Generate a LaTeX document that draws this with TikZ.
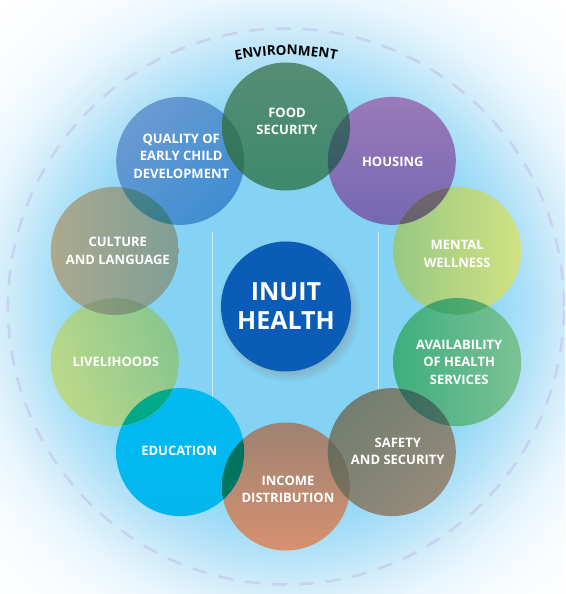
\documentclass[tikz,border=0pt]{standalone}
\usepackage{fontspec}
\setmainfont{Open Sans}
\usetikzlibrary{decorations.text,shadows,fadings,calc}

\definecolor{bgA}{HTML}{84D3F5}
\definecolor{bgB}{HTML}{8DD6F6}
\definecolor{bgC}{HTML}{B6E3F8}
\definecolor{bgD}{HTML}{CFEBFA}
\definecolor{bgE}{HTML}{E8F6FD}
\definecolor{bgF}{HTML}{F8FCFF}
\definecolor{dashc}{HTML}{C6D4EE}
\definecolor{hubblue}{HTML}{0B5CB6}

\definecolor{foodA}{HTML}{558D75}\definecolor{foodB}{HTML}{3E896D}
\definecolor{housA}{HTML}{9A7AB9}\definecolor{housB}{HTML}{7468B2}
\definecolor{mentA}{HTML}{96C882}\definecolor{mentB}{HTML}{D2E282}
\definecolor{availA}{HTML}{3EAE7E}\definecolor{availB}{HTML}{7CC294}
\definecolor{safeA}{HTML}{727E70}\definecolor{safeB}{HTML}{948A7A}
\definecolor{incA}{HTML}{9E8272}\definecolor{incB}{HTML}{D69170}
\definecolor{eduA}{HTML}{00BAF1}\definecolor{eduB}{HTML}{05B6EE}
\definecolor{liveA}{HTML}{BCD98A}\definecolor{liveB}{HTML}{88C68E}
\definecolor{cultA}{HTML}{ACA98E}\definecolor{cultB}{HTML}{7E9E97}
\definecolor{qualA}{HTML}{6A9AD2}\definecolor{qualB}{HTML}{3F8ED2}

\pgfdeclareradialshading{bgshade}{\pgfpoint{0bp}{0bp}}{%
color(0bp)=(bgA); color(10.7bp)=(bgA); color(11.9bp)=(bgB); color(14.9bp)=(bgC);
color(16.5bp)=(bgD); color(18.5bp)=(bgE); color(20.8bp)=(bgF); color(25bp)=(white); color(50bp)=(white)}

\tikzset{
  ring/.style={circle, minimum size=128, inner sep=0pt, draw=none},
  sfood/.style={top color=foodA, bottom color=foodB},
  shous/.style={top color=housA, bottom color=housB},
  sment/.style={left color=mentA, right color=mentB},
  savail/.style={left color=availA, right color=availB},
  ssafe/.style={top color=safeA, bottom color=safeB, shading angle=45},
  sinc/.style={top color=incA, bottom color=incB},
  sedu/.style={top color=eduA, bottom color=eduB},
  slive/.style={left color=liveA, right color=liveB, shading angle=110},
  scult/.style={left color=cultA, right color=cultB},
  squal/.style={top color=qualA, bottom color=qualB, shading angle=45},
  lbl/.style={text=white, align=center, inner sep=0pt,
    font=\bfseries\fontsize{13}{17.5}\selectfont},
  dashring/.style={draw=dashc, line width=2.6pt, dash pattern=on 15pt off 12pt},
  thinline/.style={draw=white, opacity=0.55, line width=0.7pt}
}

\newcommand\lens[4]{%
\begin{scope}
\clip (#1.center) circle[radius=64];
\clip (#3.center) circle[radius=64];
\shade[#2] (#1.center) circle[radius=64];
\shade[#4, blend mode=darken] (#3.center) circle[radius=64];
\shade[#4, blend mode=multiply, opacity=0.3] (#3.center) circle[radius=64];
\end{scope}}

\begin{document}
\begin{tikzpicture}[x=1pt,y=1pt]
\useasboundingbox (0,0) rectangle (565,594);
\clip (0,0) rectangle (565,594);
\coordinate (C) at (286,287.5);

% background
\fill[white] (0,0) rectangle (565,594);
\shade[shading=bgshade] (C) circle[radius=420];
\draw[dashring] (C) circle[radius=278];

% faint vertical lines
\coordinate (l1a) at (212.6,362); \coordinate (l1b) at (212.6,197);
\coordinate (l2a) at (378.4,362); \coordinate (l2b) at (378.4,197);
\draw[thinline] (l1a) -- (l1b);
\draw[thinline] (l2a) -- (l2b);

% environment label
\path[decorate, decoration={text along path, text align=center,
  text={|\color{black}\bfseries\fontsize{13.5}{16}\selectfont|ENVIRONMENT}}]
  ($(C)+(114:251.5)$) arc[start angle=114, end angle=66, radius=251.5];

% ring circles
\node[ring, sfood]  (food)  at ($(C)+(90:180)$)   {};
\node[ring, shous]  (hous)  at ($(C)+(54:180)$)   {};
\node[ring, sment]  (ment)  at ($(C)+(18:180)$)   {};
\node[ring, savail] (avail) at ($(C)+(-18:180)$)  {};
\node[ring, ssafe]  (safe)  at ($(C)+(-54:180)$)  {};
\node[ring, sinc]   (inc)   at ($(C)+(-90:180)$)  {};
\node[ring, sedu]   (edu)   at ($(C)+(-126:180)$) {};
\node[ring, slive]  (live)  at ($(C)+(-162:180)$) {};
\node[ring, scult]  (cult)  at ($(C)+(162:180)$)  {};
\node[ring, squal]  (qual)  at ($(C)+(126:180)$)  {};

% overlaps
\lens{qual}{squal}{food}{sfood}
\lens{food}{sfood}{hous}{shous}
\lens{hous}{shous}{ment}{sment}
\lens{ment}{sment}{avail}{savail}
\lens{avail}{savail}{safe}{ssafe}
\lens{safe}{ssafe}{inc}{sinc}
\lens{edu}{sedu}{inc}{sinc}
\lens{live}{slive}{edu}{sedu}
\lens{cult}{scult}{live}{slive}
\lens{cult}{scult}{qual}{squal}

% labels
\node[lbl] (foodt)  at ($(food)+(1,5)$)   {FOOD\\SECURITY};
\node[lbl] (houst)  at ($(hous)+(1,-1)$)  {HOUSING};
\node[lbl] (mentt)  at ($(ment)+(0,-3)$)  {MENTAL\\WELLNESS};
\node[lbl] (availt) at ($(avail)+(2,0)$)  {AVAILABILITY\\OF HEALTH\\SERVICES};
\node[lbl] (safet)  at ($(safe)+(6,1)$)   {SAFETY\\AND SECURITY};
\node[lbl] (inct)   at ($(inc)+(2,-3)$)   {INCOME\\DISTRIBUTION};
\node[lbl] (edut)   at ($(edu)+(-1,1)$)   {EDUCATION};
\node[lbl] (livet)  at ($(live)+(1,0)$)   {LIVELIHOODS};
\node[lbl] (cultt)  at ($(cult)+(3,0)$)   {CULTURE\\AND LANGUAGE};
\node[lbl] (qualt)  at ($(qual)+(1,5)$)   {QUALITY OF\\EARLY CHILD\\DEVELOPMENT};

% hub
\node[circle, minimum size=130, inner sep=0pt, fill=hubblue,
  circular drop shadow={shadow xshift=3pt, shadow yshift=-4pt, opacity=0.35},
  text=white, align=center,
  font=\bfseries\fontsize{25}{29}\selectfont] (hub) at (C) {INUIT\\HEALTH};
\end{tikzpicture}
\end{document}
